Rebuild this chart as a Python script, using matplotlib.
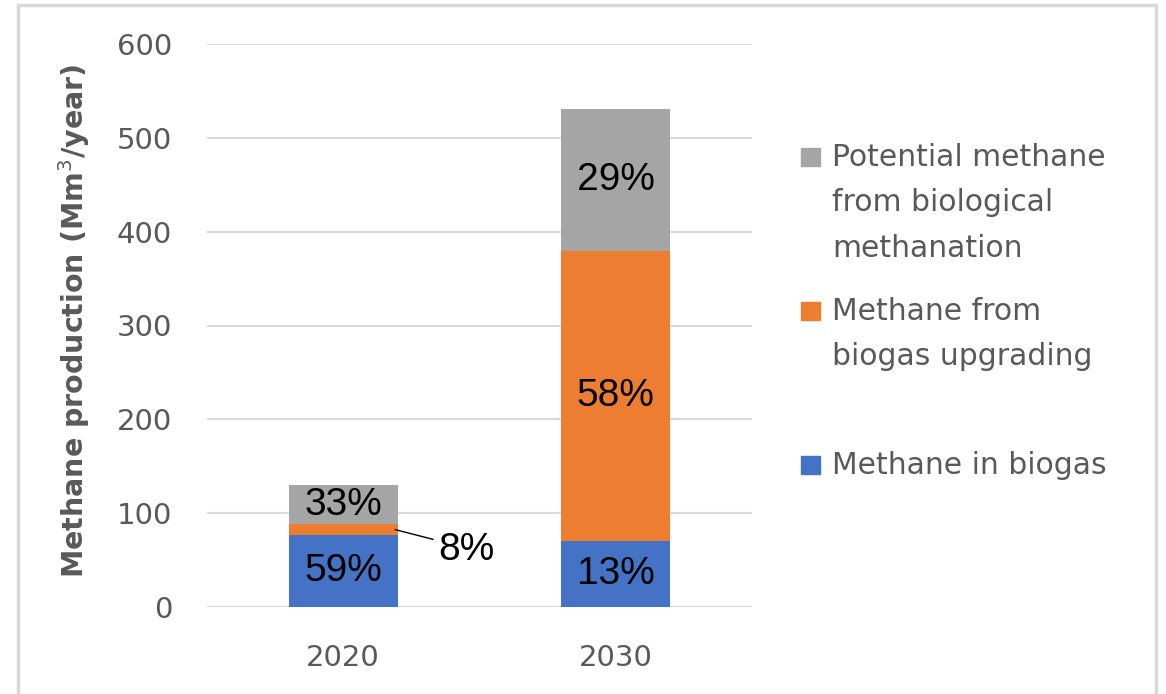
import matplotlib.pyplot as plt
from matplotlib.patches import Rectangle

plt.rcParams['font.family'] = ['DejaVu Sans']

# data
years = ['2020', '2030']
biogas = [77, 70]            # Methane in biogas
upgrading = [11, 309]        # Methane from biogas upgrading
potential = [42, 152]        # Potential methane from biological methanation
pct_biogas = ['59%', '13%']
pct_upgrading = ['8%', '58%']
pct_potential = ['33%', '29%']

clr_blue = '#4472c4'
clr_orange = '#ed7d31'
clr_gray = '#a5a5a5'
txt_gray = '#595959'

W, H = 1166, 694
fig = plt.figure(figsize=(W/100, H/100), dpi=100)
ax = fig.add_axes([207/W, 1-607/H, (752-207)/W, (607-44)/H])

x = list(range(len(years)))
bw = 0.4
b1 = ax.bar(x, biogas, bw, color=clr_blue, zorder=3)
bottom2 = biogas
b2 = ax.bar(x, upgrading, bw, bottom=bottom2, color=clr_orange, zorder=3)
bottom3 = [a+b for a, b in zip(biogas, upgrading)]
b3 = ax.bar(x, potential, bw, bottom=bottom3, color=clr_gray, zorder=3)

lblfont = dict(family=['Liberation Sans', 'DejaVu Sans'], fontsize=28, color='black')
for i in x:
    ax.text(i, biogas[i]/2, pct_biogas[i], ha='center', va='center', zorder=4, **lblfont)
    ax.text(i, bottom3[i]+potential[i]/2, pct_potential[i], ha='center', va='center', zorder=4, **lblfont)
# 2030 upgrading label inside bar, 2020 one outside with leader line
ax.text(1, bottom2[1]+upgrading[1]/2, pct_upgrading[1], ha='center', va='center', zorder=4, **lblfont)
ax.annotate(pct_upgrading[0], xy=(0.19, bottom2[0]+upgrading[0]/2), xytext=(0.35, 61),
            ha='left', va='center', zorder=4,
            arrowprops=dict(arrowstyle='-', color='black', lw=1, shrinkA=2, shrinkB=0,
                            relpos=(0, 0.75)),
            **lblfont)

ax.set_xlim(-0.5, 1.5)
ax.set_ylim(0, 600)
ax.set_yticks(range(0, 601, 100))
ax.set_xticks(x, years)
ax.tick_params(axis='both', length=0, labelsize=21, colors=txt_gray)
ax.tick_params(axis='y', pad=25)
ax.tick_params(axis='x', pad=27)
ax.grid(axis='y', color='#d9d9d9', lw=1.5, zorder=0)
for s in ax.spines.values():
    s.set_visible(False)

fig.text(74/W, 1-321/H, 'Methane production (Mm$^3$/year)', rotation=90, ha='center', va='center',
         fontsize=20.5, fontweight='bold', color=txt_gray)

# legend
leg = [(clr_gray, ['Potential methane', 'from biological', 'methanation'], 157),
       (clr_orange, ['Methane from', 'biogas upgrading'], 311),
       (clr_blue, ['Methane in biogas'], 465)]
for c, lines, y0 in leg:
    fig.patches.append(Rectangle((801/W, 1-(y0+9)/H), 19/W, 18/H, transform=fig.transFigure,
                                 color=c, zorder=3))
    for k, t in enumerate(lines):
        fig.text(832/W, 1-(y0+k*45.5)/H, t, ha='left', va='center', fontsize=21.5, color=txt_gray)

# outer frame
fig.patches.append(Rectangle((18/W, -0.01), (1156-18)/W, 1-5/H+0.01, transform=fig.transFigure,
                             fill=False, ec='#d9d9d9', lw=2.5, zorder=0))

fig.savefig('out.png', dpi=100)
